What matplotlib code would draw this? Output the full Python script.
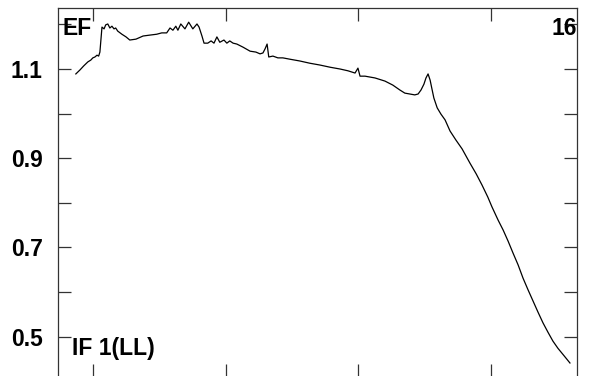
#!/usr/bin/env python3
"""Bandpass amplitude for IF 1 (LL), antenna EF, spectral window 16."""

import matplotlib

matplotlib.use("Agg")
import matplotlib.pyplot as plt
from matplotlib.ticker import FixedLocator, MultipleLocator, NullFormatter

plt.rcParams["font.family"] = ["Liberation Sans", "DejaVu Sans"]
plt.rcParams["font.weight"] = "bold"

# channel number and normalised amplitude
channel = [
    11.9, 12.9, 13.8, 14.8, 15.5, 16.0, 16.5, 17.0, 17.4, 17.7,
    18.2, 18.7, 19.1, 19.6, 20.1, 20.6, 21.1, 21.5, 22.0, 23.0,
    24.0, 24.9, 26.4, 28.1, 29.7, 31.4, 32.6, 33.8, 34.6, 35.3,
    36.0, 36.5, 37.2, 38.2, 39.1, 40.1, 41.1, 41.6, 42.3, 42.8,
    43.7, 44.5, 45.2, 45.9, 46.6, 47.6, 48.3, 49.0, 49.8, 50.7,
    52.2, 53.9, 55.3, 56.3, 57.0, 57.5, 58.0, 58.4, 59.4, 60.6,
    61.8, 63.5, 65.9, 68.3, 70.7, 73.2, 75.6, 77.5, 79.2, 79.9,
    80.4, 81.6, 84.0, 86.4, 88.3, 90.0, 91.2, 92.4, 93.6, 94.4,
    95.1, 95.8, 96.3, 96.8, 97.3, 97.7, 98.2, 99.0, 99.9, 100.9,
    102.1, 103.5, 105.0, 106.9, 108.4, 109.8, 111.2, 112.2, 113.7, 114.9,
    116.1, 117.3, 118.5, 119.7, 120.9, 122.1, 123.3, 124.5, 125.7, 126.9,
    128.1, 129.6, 131.0,
]
amplitude = [
    1.089, 1.098, 1.107, 1.116, 1.120, 1.125, 1.127, 1.131, 1.129, 1.138,
    1.194, 1.190, 1.199, 1.201, 1.192, 1.196, 1.190, 1.192, 1.185, 1.178,
    1.172, 1.165, 1.167, 1.174, 1.176, 1.178, 1.181, 1.181, 1.192, 1.187,
    1.196, 1.187, 1.201, 1.190, 1.205, 1.190, 1.201, 1.194, 1.174, 1.158,
    1.158, 1.163, 1.158, 1.172, 1.160, 1.165, 1.158, 1.163, 1.158, 1.156,
    1.149, 1.140, 1.138, 1.134, 1.136, 1.145, 1.156, 1.127, 1.129, 1.125,
    1.125, 1.122, 1.118, 1.113, 1.109, 1.104, 1.100, 1.096, 1.091, 1.102,
    1.084, 1.084, 1.080, 1.073, 1.064, 1.053, 1.046, 1.044, 1.042, 1.044,
    1.053, 1.066, 1.080, 1.089, 1.075, 1.057, 1.035, 1.013, 0.999, 0.986,
    0.961, 0.941, 0.921, 0.889, 0.865, 0.840, 0.813, 0.791, 0.761, 0.739,
    0.714, 0.687, 0.661, 0.631, 0.605, 0.580, 0.555, 0.531, 0.510, 0.490,
    0.474, 0.457, 0.441,
]

x_ticks = [16, 48, 80, 112]
y_labelled = [0.5, 0.7, 0.9, 1.1]

W, H = 591, 376
fig = plt.figure(figsize=(W / 100, H / 100), dpi=100)
ax = fig.add_axes([58 / W, -1 / H, (577 - 58) / W, (377 - 8) / H])

ax.plot(channel, amplitude, color="black", lw=0.9)

ax.set_xlim(7.6, 132.7)
ax.set_ylim(0.4096, 1.2368)

ax.xaxis.set_major_locator(FixedLocator(x_ticks))
ax.xaxis.set_major_formatter(NullFormatter())
ax.yaxis.set_major_locator(FixedLocator(y_labelled))
ax.yaxis.set_minor_locator(MultipleLocator(0.1))
ax.set_yticklabels([f"{v:.1f}" for v in y_labelled])

ax.tick_params(axis="both", which="both", direction="in", length=9.5,
               width=0.9, color="#333333", top=True, right=True)
ax.tick_params(axis="y", which="major", labelsize=16.5, pad=11)
for lab in ax.get_yticklabels():
    lab.set_fontweight("bold")
for side in ax.spines.values():
    side.set_linewidth(0.9)
    side.set_color("#333333")

fig.text(62 / W, 1 - 35 / H, "EF", fontsize=16.5, fontweight="bold", va="baseline")
fig.text(577 / W, 1 - 35 / H, "16", fontsize=16.5, fontweight="bold",
         va="baseline", ha="right")
fig.text(72 / W, 1 - 355 / H, "IF 1(LL)", fontsize=16.5, fontweight="bold",
         va="baseline")

fig.savefig("out.png", dpi=100)
